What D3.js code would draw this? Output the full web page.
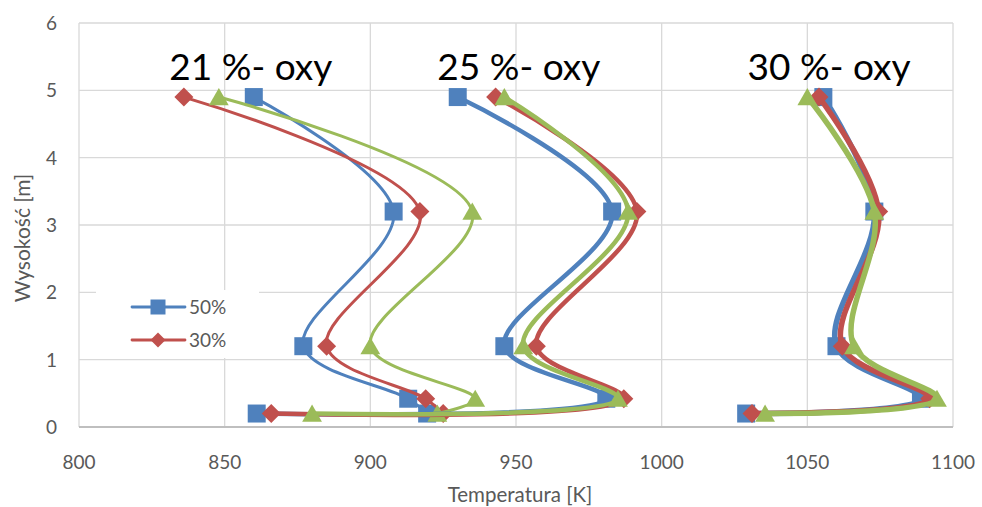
<!DOCTYPE html>
<html>
<head>
<meta charset="utf-8">
<script src="https://cdn.jsdelivr.net/npm/d3@7"></script>
<style>
  body { margin: 0; background: #fff; }
  svg { display: block; font-family: Lato, "Open Sans", sans-serif; }
</style>
</head>
<body>
<svg id="chart" width="982" height="507"></svg>
<script>
// heights (m) for each measured point, top to bottom
const heights = [4.9, 3.2, 1.2, 0.42, 0.2];

// temperatures (K)
const t21_50 = [860, 908, 877, 913, 919.5];
const t21_30 = [836, 917, 885, 919, 925];
const t21_10 = [848, 935, 900, 936, 923];
const t25_50 = [930, 983, 946, 981, 861];
const t25_30 = [943, 991.5, 957, 987, 866];
const t25_10 = [946, 988.5, 952.5, 985, 880];
const t30_50 = [1055.5, 1073, 1060, 1089, 1029];
const t30_30 = [1054, 1074.5, 1062, 1092, 1031];
const t30_10 = [1050, 1073, 1066, 1094.5, 1035.5];

const groupLabels = ["21 %- oxy", "25 %- oxy", "30 %- oxy"];
const groupLabelX = [831, 923, 1029.5]; // where each label starts (K)
const legendNames = ["50%", "30%"];
const xTicks = [800, 850, 900, 950, 1000, 1050, 1100];
const yTicks = [0, 1, 2, 3, 4, 5, 6];

const colors = ["#4f81bd", "#c0504d", "#9bbb59"];
const shapes = ["square", "diamond", "triangle"];
const widths = [3, 4.5, 5.5];

const groups = [
  [t21_50, t21_30, t21_10],
  [t25_50, t25_30, t25_10],
  [t30_50, t30_30, t30_10]
];

const svg = d3.select("#chart");
const plotLeft = 79, plotRight = 953, plotTop = 23, plotBottom = 427;

const x = d3.scaleLinear().domain([800, 1100]).range([plotLeft, plotRight]);
const y = d3.scaleLinear().domain([0, 6]).range([plotBottom, plotTop]);

// gridlines
svg.append("g")
  .selectAll("line")
  .data(xTicks)
  .join("line")
  .attr("x1", d => x(d)).attr("x2", d => x(d))
  .attr("y1", plotTop).attr("y2", plotBottom)
  .attr("stroke", "#d9d9d9").attr("stroke-width", 1.3);

svg.append("g")
  .selectAll("line")
  .data(yTicks)
  .join("line")
  .attr("x1", plotLeft).attr("x2", plotRight)
  .attr("y1", d => y(d)).attr("y2", d => y(d))
  .attr("stroke", "#d9d9d9").attr("stroke-width", 1.3);

svg.append("line")
  .attr("x1", plotLeft).attr("x2", plotRight)
  .attr("y1", plotBottom).attr("y2", plotBottom)
  .attr("stroke", "#bfbfbf").attr("stroke-width", 2);

// tick labels
svg.append("g")
  .selectAll("text")
  .data(xTicks)
  .join("text")
  .attr("x", d => x(d)).attr("y", 469)
  .attr("text-anchor", "middle")
  .attr("font-size", 19).attr("fill", "#595959")
  .text(d => d);

svg.append("g")
  .selectAll("text")
  .data(yTicks)
  .join("text")
  .attr("x", 57).attr("y", d => y(d) + 7)
  .attr("text-anchor", "end")
  .attr("font-size", 19).attr("fill", "#595959")
  .text(d => d);

svg.append("text")
  .attr("x", 520).attr("y", 502)
  .attr("text-anchor", "middle")
  .attr("font-size", 20.5).attr("fill", "#595959")
  .text("Temperatura [K]");

svg.append("text")
  .attr("transform", "translate(30,238) rotate(-90)")
  .attr("text-anchor", "middle")
  .attr("font-size", 21).attr("fill", "#595959")
  .text("Wysokość [m]");

function marker(sel, shape, s, color) {
  const h = s / 2;
  let d;
  if (shape === "square") d = `M${-h},${-h}H${h}V${h}H${-h}Z`;
  else if (shape === "diamond") d = `M0,${-h}L${h},0L0,${h}L${-h},0Z`;
  else d = `M0,${-h}L${h * 1.1},${h * 0.9}L${-h * 1.1},${h * 0.9}Z`;
  sel.append("path").attr("d", d).attr("fill", color);
}

const line = d3.line()
  .x(d => x(d[0]))
  .y(d => y(d[1]))
  .curve(d3.curveCatmullRom.alpha(0.5));

groups.forEach((grp, gi) => {
  grp.forEach((temps, si) => {
    const pts = temps.map((t, i) => [t, heights[i]]);
    svg.append("path")
      .attr("d", line(pts))
      .attr("fill", "none")
      .attr("stroke", colors[si])
      .attr("stroke-width", widths[gi])
      .attr("stroke-linejoin", "round");
    pts.forEach(p => {
      const g = svg.append("g").attr("transform", `translate(${x(p[0])},${y(p[1])})`);
      marker(g, shapes[si], si === 1 ? 19 : 18, colors[si]);
    });
  });
});

// group labels
svg.append("g")
  .selectAll("text")
  .data(groupLabels)
  .join("text")
  .attr("x", (d, i) => x(groupLabelX[i]))
  .attr("y", 80)
  .attr("font-size", 37)
  .attr("fill", "#000")
  .attr("textLength", 163)
  .attr("lengthAdjust", "spacingAndGlyphs")
  .text(d => d);

// legend
const lg = svg.append("g");
lg.append("rect").attr("x", 96).attr("y", 290).attr("width", 163).attr("height", 68).attr("fill", "#fff");
legendNames.forEach((name, i) => {
  const ly = 307 + i * 33;
  lg.append("line")
    .attr("x1", 132).attr("x2", 185).attr("y1", ly).attr("y2", ly)
    .attr("stroke", colors[i]).attr("stroke-width", 2.8).attr("stroke-linecap", "round");
  marker(lg.append("g").attr("transform", `translate(158,${ly})`), shapes[i], 15, colors[i]);
  lg.append("text")
    .attr("x", 189).attr("y", ly + 7)
    .attr("font-size", 19).attr("fill", "#595959")
    .text(name);
});
</script>
</body>
</html>
